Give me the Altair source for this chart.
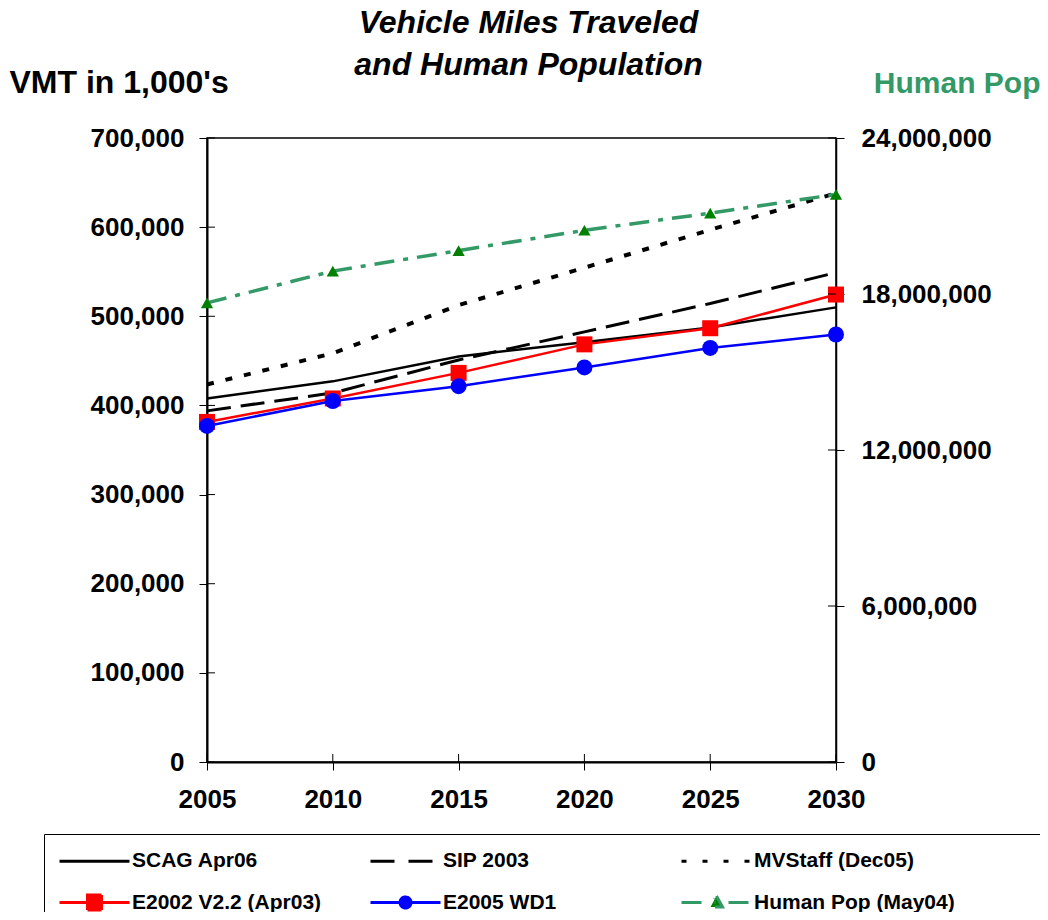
import altair as alt
import pandas as pd

# ---------------- data ----------------
years = [2005, 2010, 2015, 2020, 2025, 2030]
series_names = ["SCAG Apr06", "SIP 2003", "MVStaff (Dec05)",
                "E2002 V2.2 (Apr03)", "E2005 WD1", "Human Pop (May04)"]
scag_apr06 = [407800, 427000, 455000, 471000, 487500, 510000]
sip_2003 = [393900, 414000, 451000, 482500, 514300, 549000]
mvstaff_dec05 = [423500, 458500, 512500, 554500, 597000, 638000]
e2002_v22 = [381500, 407800, 436500, 468500, 486600, 524400]
e2005_wd1 = [377000, 405000, 421600, 442600, 464500, 479600]
human_pop = [17660000, 18880000, 19670000, 20450000, 21110000, 21830000]

left_ticks = [0, 100000, 200000, 300000, 400000, 500000, 600000, 700000]
right_ticks = [0, 6000000, 12000000, 18000000, 24000000]
x_ticks = years

vmt_values = [scag_apr06, sip_2003, mvstaff_dec05, e2002_v22, e2005_wd1]

vmt_df = pd.DataFrame([
    {"year": y, "series": s, "vmt": v}
    for s, vals in zip(series_names[:5], vmt_values)
    for y, v in zip(years, vals)
])
pop_df = pd.DataFrame({"year": years, "pop": human_pop, "series": series_names[5]})
leg_df = pd.DataFrame({"series": series_names})
lt_df = pd.DataFrame({"vmt": left_ticks})
rt_df = pd.DataFrame({"pop": right_ticks})
xt_df = pd.DataFrame({"year": x_ticks})

# ---------------- styles ----------------
W, H = 629, 624
FONT = "Liberation Sans"
GREEN = "#339966"
DARKGREEN = "#008000"

line_styles = {
    "SCAG Apr06": dict(color="black", width=2.5, dash=None),
    "SIP 2003": dict(color="black", width=3, dash=[24, 10]),
    "MVStaff (Dec05)": dict(color="black", width=4, dash=[7, 12]),
    "E2002 V2.2 (Apr03)": dict(color="#ff0000", width=2.5, dash=None),
    "E2005 WD1": dict(color="#0000ff", width=2.5, dash=None),
}
marker_styles = {
    "E2002 V2.2 (Apr03)": dict(shape="square", color="#ff0000", size=256),
    "E2005 WD1": dict(shape="circle", color="#0000ff", size=256),
}

x_scale = alt.Scale(domain=[2005, 2030], nice=False, zero=False)
y_left = alt.Scale(domain=[0, 700000], nice=False)
y_right = alt.Scale(domain=[0, 24000000], nice=False)

x_axis = alt.Axis(values=x_ticks, format="d", title=None, labelFlush=False,
                  labelOverlap=False, labelPadding=16, domainWidth=2)
left_axis = alt.Axis(orient="left", values=left_ticks, format=",d", labelPadding=15,
                     labelOverlap=False, domainWidth=2,
                     title="VMT in 1,000's", titleAngle=0, titleAlign="left",
                     titleBaseline="alphabetic", titleX=-198, titleY=-46,
                     titleFont=FONT, titleFontSize=32, titleFontWeight="bold",
                     titleColor="black")
right_axis = alt.Axis(orient="right", values=right_ticks, format=",d",
                      labelPadding=17, labelOverlap=False, domainWidth=1.5,
                      title="Human Pop", titleAngle=0, titleAlign="right",
                      titleBaseline="alphabetic", titleX=204, titleY=-46,
                      titleFont=FONT, titleFontSize=30, titleFontWeight="bold",
                      titleColor=GREEN)

X = alt.X("year:Q", scale=x_scale, axis=x_axis)
YL = alt.Y("vmt:Q", scale=y_left, axis=left_axis)
YR = alt.Y("pop:Q", scale=y_right, axis=right_axis)

# ---------------- VMT layers ----------------
vmt_layers = []
for name in series_names[:5]:
    st = line_styles[name]
    kw = dict(color=st["color"], strokeWidth=st["width"])
    if st["dash"]:
        kw["strokeDash"] = st["dash"]
    base = alt.Chart(vmt_df).transform_filter(alt.datum.series == name)
    vmt_layers.append(base.mark_line(**kw).encode(x=X, y=YL))
    if name in marker_styles:
        ms = marker_styles[name]
        vmt_layers.append(base.mark_point(shape=ms["shape"], filled=True, color=ms["color"],
                                          size=ms["size"], opacity=1).encode(x=X, y=YL))

# inner half of the crossing ticks
left_in = alt.Chart(lt_df).mark_rule(color="black", strokeWidth=1).encode(
    y=YL, x=alt.value(0), x2=alt.value(8))
bottom_in = alt.Chart(xt_df).mark_rule(color="black", strokeWidth=1).encode(
    x=X, y=alt.value(H - 8), y2=alt.value(H))

# legend-only layer (invisible marks, visible legend)
# unit = sqrt(symbolSize)/2 = 10 px ; line runs 70 px
LINE = "M-1,0H6"
SQ = "M1.8,-0.75H3.2V0.75H1.8Z"
CIRC = "M3.05,0A0.55,0.55 0 1,1 1.95,0A0.55,0.55 0 1,1 3.05,0Z"
TRI = "M2.5,-0.65L3.1,0.45L1.9,0.45Z"
leg_shapes = [LINE, LINE, LINE, LINE + SQ, LINE + CIRC, LINE + TRI]
leg_fills = ["black", "black", "black", "#ff0000", "#0000ff", DARKGREEN]
leg_strokes = ["black", "black", "black", "#ff0000", "#0000ff", GREEN]
leg_dashes = [[1, 0], [24, 14], [5, 16], [1, 0], [1, 0], [20, 13, 1, 13]]

leg = alt.Legend(title=" ", titleOrient="right", titlePadding=71, titleFontSize=8,
                 orient="none", legendX=-163, legendY=696,
                 direction="horizontal", columns=3, gridAlign="all",
                 columnPadding=31, rowPadding=16,
                 labelFont=FONT, labelFontSize=21, labelFontWeight="bold",
                 labelColor="black", labelOffset=51, labelLimit=400,
                 symbolSize=400, symbolStrokeWidth=3, symbolOpacity=1,
                 padding=14, strokeColor="black", fillColor="white")

legend_layer = alt.Chart(leg_df).mark_point(filled=True, opacity=0, size=10).encode(
    color=alt.Color("series:N", scale=alt.Scale(domain=series_names, range=leg_fills), legend=leg),
    stroke=alt.Stroke("series:N", scale=alt.Scale(domain=series_names, range=leg_strokes), legend=leg),
    strokeDash=alt.StrokeDash("series:N", scale=alt.Scale(domain=series_names, range=leg_dashes), legend=leg),
    shape=alt.Shape("series:N", scale=alt.Scale(domain=series_names, range=leg_shapes), legend=leg),
)

vmt_group = alt.layer(*vmt_layers, left_in, bottom_in, legend_layer)

# ---------------- Population layers ----------------
pop_line = alt.Chart(pop_df).mark_line(color=GREEN, strokeWidth=3.5,
                                       strokeDash=[20, 9, 5, 9]).encode(x=X, y=YR)
pop_pts = alt.Chart(pop_df).mark_point(shape="triangle-up", filled=True,
                                       color=DARKGREEN, size=150, opacity=1).encode(x=X, y=YR)
right_in = alt.Chart(rt_df).mark_rule(color="black", strokeWidth=1).encode(
    y=YR, x=alt.value(W - 8), x2=alt.value(W))

pop_group = alt.layer(pop_line, pop_pts, right_in)

chart = alt.layer(vmt_group, pop_group).resolve_scale(y="independent").properties(
    width=W, height=H,
    autosize=alt.AutoSizeParams(type="none"),
    padding={"left": 199, "top": 130, "right": 204, "bottom": 150},
    title=alt.TitleParams(["Vehicle Miles Traveled", "and Human Population"],
                          font=FONT, fontSize=32, fontWeight="bold",
                          fontStyle="italic", color="black", anchor="middle",
                          dx=7, dy=22, lineHeight=42, offset=6),
    background="white",
).configure_view(stroke="black", strokeWidth=1.5).configure_axis(
    labelFont=FONT, labelFontSize=26, labelFontWeight="bold", labelColor="black",
    tickColor="black", tickSize=8, tickWidth=1, domainColor="black", grid=False,
)

chart.save("out.html", embed_options={"renderer": "svg", "actions": False})
